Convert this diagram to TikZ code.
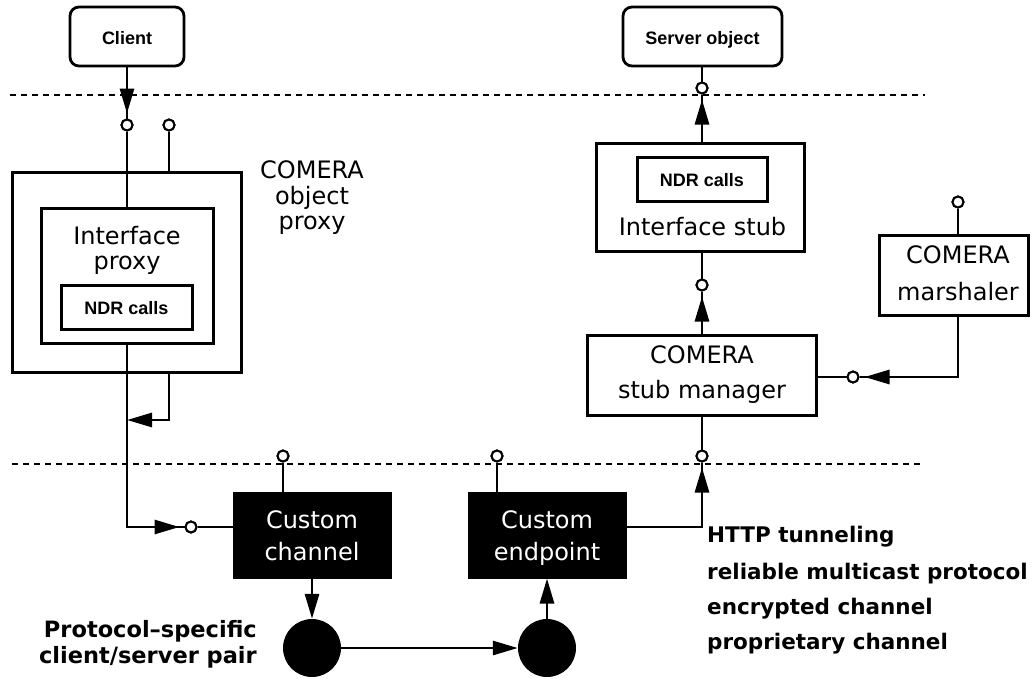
\documentclass[tikz,border=0pt]{standalone}
\usepackage{fontspec}
\setmainfont{DejaVu Sans}
\newfontfamily\smallsans{Liberation Sans}
\usetikzlibrary{arrows.meta,decorations.markings}
\tikzset{
  tri/.tip={Triangle[length=25pt,width=14pt]},
  box/.style={draw, line width=3pt, inner sep=0pt},
  rbox/.style={draw, line width=2.8pt, rounded corners=9pt, inner sep=0pt},
  blk/.style={fill=black, draw=black, line width=1pt, inner sep=0pt},
  iface/.style={circle, draw, fill=white, line width=2pt, minimum size=11pt, inner sep=0pt},
  ball/.style={circle, fill=black, minimum size=58pt, inner sep=0pt},
  conn/.style={line width=2.8pt},
  arr/.style={conn, -tri},
  garr/.style={conn, postaction={decorate}, decoration={markings, mark=at position -5pt with {\arrow{tri}}}},
  sepline/.style={line width=1.4pt, dash pattern=on 6pt off 5pt},
  big/.style={font=\fontsize{24}{28}\selectfont, inner sep=0pt, anchor=base},
  bigw/.style={big, text=white},
  lbl/.style={font=\bfseries\fontsize{21.5}{25}\selectfont, inner sep=0pt},
  lblb/.style={font=\bfseries\fontsize{22.5}{25}\selectfont, inner sep=0pt},
  small/.style={font=\smallsans\bfseries\fontsize{18}{20}\selectfont, inner sep=0pt, anchor=base},
}
\begin{document}
\begin{tikzpicture}[x=1pt,y=-1pt]
\useasboundingbox (0,0) rectangle (1034,678);
% separators
\draw[sepline] (10,95) -- (925,95);
\draw[sepline] (12,464) -- (922,464);
% boxes
\node[rbox, minimum width=114pt, minimum height=59pt] (client) at (127,36.5) {};
\node[small] (tclient) at (127,44) {Client};
\node[rbox, minimum width=159pt, minimum height=59pt] (server) at (702.5,36.5) {};
\node[small] (tserver) at (702.5,44) {Server object};

\node[box, minimum width=229pt, minimum height=200pt] (outer) at (126.5,272) {};
\node[box, minimum width=172pt, minimum height=135pt] (inner) at (127,275.5) {};
\node[box, minimum width=131pt, minimum height=44pt] (ndrl) at (126.5,307) {};
\node[small] (tndrl) at (126.5,314) {NDR calls};
\node[big] (tip1) at (127,244) {Interface};
\node[big] (tip2) at (127,269) {proxy};
\node[big] (top1) at (312,178) {COMERA};
\node[big] (top2) at (312,204) {object};
\node[big] (top3) at (312,229) {proxy};

\node[box, minimum width=208pt, minimum height=108pt] (stub) at (700,197) {};
\node[box, minimum width=130pt, minimum height=44pt] (ndrr) at (702,179) {};
\node[small] (tndrr) at (702,186) {NDR calls};
\node[big] (tstub) at (702.5,235) {Interface stub};

\node[box, minimum width=149pt, minimum height=80pt] (marsh) at (953.5,275) {};
\node[big] (tm1) at (958,263) {COMERA};
\node[big] (tm2) at (958,300) {marshaler};

\node[box, minimum width=229pt, minimum height=80pt] (mgr) at (701.5,375) {};
\node[big] (tg1) at (702,363) {COMERA};
\node[big] (tg2) at (702,398) {stub manager};

\node[blk, minimum width=158pt, minimum height=86pt] (channel) at (312,535) {};
\node[bigw] (tc1) at (312,528) {Custom};
\node[bigw] (tc2) at (312,560) {channel};
\node[blk, minimum width=158pt, minimum height=86pt] (endpoint) at (547,535) {};
\node[bigw] (te1) at (547,528) {Custom};
\node[bigw] (te2) at (547,560) {endpoint};

\node[ball] (lball) at (312,648) {};
\node[ball] (rball) at (547,648) {};

% labels
\node[lblb, anchor=base east] (pl1) at (257,637) {Protocol–specific};
\node[lblb, anchor=base east] (pl2) at (257,663) {client/server pair};
\node[lbl, anchor=base west] (rl1) at (707,542) {HTTP tunneling};
\node[lbl, anchor=base west] (rl2) at (707,579) {reliable multicast protocol};
\node[lbl, anchor=base west] (rl3) at (707,614) {encrypted channel};
\node[lbl, anchor=base west] (rl4) at (707,649) {proprietary channel};

% interface circles
\node[iface] (c1) at (127,125) {};
\node[iface] (c2) at (169,125) {};
\node[iface] (c3) at (191,527) {};
\node[iface] (c4) at (283,456) {};
\node[iface] (c5) at (497,456) {};
\node[iface] (c6) at (702,456) {};
\node[iface] (c7) at (702,285) {};
\node[iface] (c8) at (702,88) {};
\node[iface] (c9) at (958,202) {};
\node[iface] (c10) at (853,377) {};
\coordinate (j) at (127,420);

% connectors
\draw[garr] (client.south) -- (c1);
\draw[conn] (c1) -- (c1 |- inner.north);
\draw[conn] (c2) -- (c2 |- outer.north);
\draw[garr] (c1 |- inner.south) |- (c3);
\draw[arr] (c2 |- outer.south) |- (j);
\draw[conn] (c3) -- (c3 -| channel.west);
\draw[conn] (c4 |- channel.north) -- (c4);
\draw[arr] (channel.south) -- (lball);
\draw[arr] (lball) -- (rball);
\draw[arr] (rball) -- (endpoint.south);
\draw[conn] (c5 |- endpoint.north) -- (c5);
\draw[garr] ([yshift=8pt]endpoint.east) -| (c6);
\draw[conn] (c6 |- mgr.south) -- (c6);
\draw[garr] (c7 |- mgr.north) -- (c7);
\draw[conn] (c7) -- (c7 |- stub.south);
\draw[garr] (c8 |- stub.north) -- (c8);
\draw[conn] (c8) -- (c8 |- server.south);
\draw[conn] (c9) -- (c9 |- marsh.north);
\draw[garr] (c9 |- marsh.south) |- (c10);
\draw[conn] (c10) -- (c10 -| mgr.east);
% redraw circles on top
\foreach \c in {c1,c2,c3,c4,c5,c6,c7,c8,c9,c10}
  \node[iface] at (\c) {};
\end{tikzpicture}
\end{document}
